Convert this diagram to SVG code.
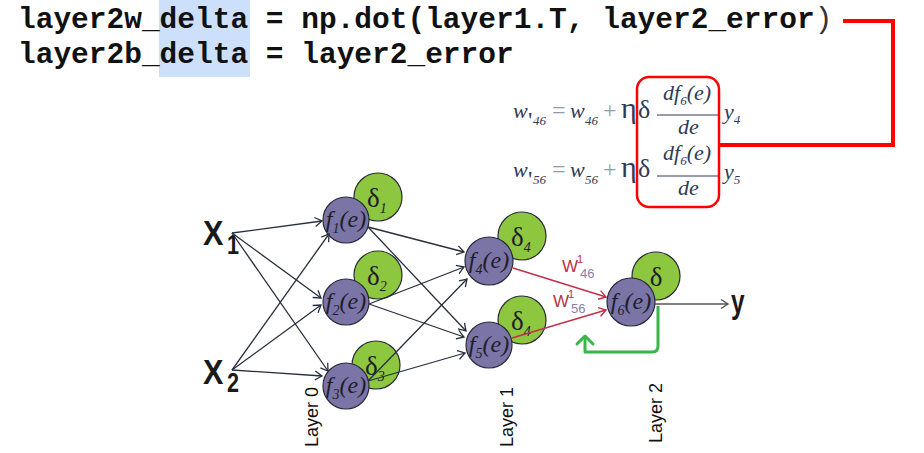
<svg xmlns="http://www.w3.org/2000/svg" width="924" height="453" viewBox="0 0 924 453">
<style>
.code{font-family:"Liberation Mono","DejaVu Sans Mono",monospace;font-weight:bold;font-size:29.5px;fill:#111}
.m{font-family:"Liberation Serif","Times New Roman",serif;font-style:italic;fill:#2f3b58}
.mu{font-family:"Liberation Serif","Times New Roman",serif;fill:#2f3b58}
.op{font-family:"Liberation Serif",serif;fill:#8f9bb3;font-size:24px}
.fn{fill:#7b74a6;stroke:#2b2b3a;stroke-width:1.2}
.dn{fill:#8dc63f;stroke:#2b2b3a;stroke-width:1.2}
.fl{font-family:"Liberation Serif",serif;font-style:italic;font-size:24px;fill:#1e1e2a}
.dl{font-family:"Liberation Serif",serif;font-size:27px;fill:#1e1e2a}
.ds{font-style:italic;font-size:14px}
.big{font-family:"Liberation Sans",Arial,sans-serif;font-weight:bold;fill:#1a1a1a}
.lay{font-family:"Liberation Sans",Arial,sans-serif;font-size:18px;fill:#111}
.blk{stroke:#27303c;stroke-width:1.3;fill:none;marker-end:url(#ab)}
.red{stroke:#c0304a;stroke-width:1.4;fill:none;marker-end:url(#ar)}
.wl{font-family:"Liberation Sans",Arial,sans-serif;fill:#b8304a}
.ws{font-family:"Liberation Sans",Arial,sans-serif;fill:#8c7fa6}
</style>
<defs>
<marker id="ab" markerUnits="userSpaceOnUse" markerWidth="12" markerHeight="12" refX="9" refY="6" orient="auto"><path d="M2,1.5 L9,6 L2,10.5" fill="none" stroke="#27303c" stroke-width="1.3"/></marker>
<marker id="ar" markerUnits="userSpaceOnUse" markerWidth="12" markerHeight="12" refX="9" refY="6" orient="auto"><path d="M2,1.5 L9,6 L2,10.5" fill="none" stroke="#c0304a" stroke-width="1.4"/></marker>
<marker id="ag" markerUnits="userSpaceOnUse" markerWidth="12" markerHeight="12" refX="9" refY="6" orient="auto"><path d="M2,1.5 L9,6 L2,10.5" fill="none" stroke="#555" stroke-width="1.4"/></marker>
</defs>
<rect width="924" height="453" fill="#fff"/>

<g id="code">
<rect x="159" y="0" width="91" height="77" fill="#cce0fc"/>
<text class="code" x="18" y="28">layer2w_delta = np.dot(layer1.T, layer2_error<tspan font-weight="normal" fill="#333">)</tspan></text>
<text class="code" x="18" y="63">layer2b_delta = layer2_error</text>
</g>

<g id="formula1">
<text class="m" x="513" y="118" font-size="22">w</text>
<text class="mu" x="528" y="128" font-size="24">'</text>
<text class="m" x="533" y="125" font-size="13">46</text>
<text class="op" x="552" y="118">=</text>
<text class="m" x="570" y="118" font-size="22">w</text>
<text class="m" x="585" y="125" font-size="13">46</text>
<text class="op" x="603" y="118">+</text>
<text class="mu" x="621" y="118" font-size="30">η</text>
<text class="mu" x="638" y="118" font-size="26">δ</text>
<text class="m" x="663" y="100" font-size="22">df<tspan font-size="13" dy="5">6</tspan><tspan dy="-5">(e)</tspan></text>
<line x1="657" y1="115" x2="720" y2="115" stroke="#2f3b58" stroke-width="1"/>
<text class="m" x="678" y="134" font-size="22">de</text>
<text class="m" x="724" y="119" font-size="22">y<tspan font-size="13" dy="5">4</tspan></text>
</g>

<g id="formula2">
<text class="m" x="513" y="177" font-size="22">w</text>
<text class="mu" x="528" y="187" font-size="24">'</text>
<text class="m" x="533" y="184" font-size="13">56</text>
<text class="op" x="552" y="177">=</text>
<text class="m" x="570" y="177" font-size="22">w</text>
<text class="m" x="585" y="184" font-size="13">56</text>
<text class="op" x="603" y="177">+</text>
<text class="mu" x="621" y="177" font-size="30">η</text>
<text class="mu" x="638" y="177" font-size="26">δ</text>
<text class="m" x="663" y="160" font-size="22">df<tspan font-size="13" dy="5">6</tspan><tspan dy="-5">(e)</tspan></text>
<line x1="657" y1="176" x2="720" y2="176" stroke="#2f3b58" stroke-width="1"/>
<text class="m" x="678" y="195" font-size="22">de</text>
<text class="m" x="724" y="179" font-size="22">y<tspan font-size="13" dy="5">5</tspan></text>
</g>

<g id="highlight-box">
<rect x="637" y="77" width="82" height="130" rx="12" fill="none" stroke="#ff0000" stroke-width="2.5"/>
</g>

<g id="inputs">
<text class="big" font-size="36" transform="translate(203,245) scale(0.85,1)">X</text>
<text class="big" font-size="27" transform="translate(227,254) scale(0.8,1)">1</text>
<text class="big" font-size="36" transform="translate(203,384) scale(0.85,1)">X</text>
<text class="big" font-size="27" transform="translate(227,392) scale(0.8,1)">2</text>
</g>

<g id="node-f1">
<circle class="dn" cx="378" cy="197" r="24"/>
<text class="dl" x="367" y="207">δ<tspan class="ds" dy="6">1</tspan></text>
<circle class="fn" cx="346" cy="220" r="23"/>
<text class="fl" x="346" y="227" text-anchor="middle">f<tspan font-size="14" dy="6">1</tspan><tspan dy="-6">(e)</tspan></text>
</g>
<g id="node-f2">
<circle class="dn" cx="378" cy="275" r="24"/>
<text class="dl" x="367" y="285">δ<tspan class="ds" dy="6">2</tspan></text>
<circle class="fn" cx="346" cy="302" r="23"/>
<text class="fl" x="346" y="309" text-anchor="middle">f<tspan font-size="14" dy="6">2</tspan><tspan dy="-6">(e)</tspan></text>
</g>
<g id="node-f3">
<circle class="dn" cx="376" cy="365" r="24"/>
<text class="dl" x="365" y="375">δ<tspan class="ds" dy="6">3</tspan></text>
<circle class="fn" cx="346" cy="386" r="23"/>
<text class="fl" x="346" y="393" text-anchor="middle">f<tspan font-size="14" dy="6">3</tspan><tspan dy="-6">(e)</tspan></text>
</g>
<g id="node-f4">
<circle class="dn" cx="522" cy="236" r="24"/>
<text class="dl" x="511" y="246">δ<tspan class="ds" dy="6">4</tspan></text>
<circle class="fn" cx="489" cy="261" r="24"/>
<text class="fl" x="489" y="268" text-anchor="middle">f<tspan font-size="14" dy="6">4</tspan><tspan dy="-6">(e)</tspan></text>
</g>
<g id="node-f5">
<circle class="dn" cx="522" cy="320" r="24"/>
<text class="dl" x="511" y="330">δ<tspan class="ds" dy="6">4</tspan></text>
<circle class="fn" cx="489" cy="345" r="23"/>
<text class="fl" x="489" y="352" text-anchor="middle">f<tspan font-size="14" dy="6">5</tspan><tspan dy="-6">(e)</tspan></text>
</g>
<g id="node-f6">
<circle class="dn" cx="656" cy="276" r="24"/>
<text class="dl" x="656" y="286" text-anchor="middle">δ</text>
<circle class="fn" cx="631" cy="302" r="24"/>
<text class="fl" x="631" y="309" text-anchor="middle">f<tspan font-size="14" dy="6">6</tspan><tspan dy="-6">(e)</tspan></text>
</g>
<g id="output">
<text class="big" font-size="34" transform="translate(731,313) scale(0.72,1)">y</text>
</g>

<g id="connectors">
<path class="blk" d="M232,233 L322,221"/>
<path class="blk" d="M232,233 L321,298"/>
<path class="blk" d="M232,233 L328,371"/>
<path class="blk" d="M232,370 L329,234"/>
<path class="blk" d="M232,370 L321,305"/>
<path class="blk" d="M232,370 L322,376"/>
<path class="blk" d="M368,227 L464,252"/>
<path class="blk" d="M368,227 L466,331"/>
<path class="blk" d="M369,304 L464,267"/>
<path class="blk" d="M369,304 L464,337"/>
<path class="blk" d="M368,381 L467,279"/>
<path class="blk" d="M368,381 L465,353"/>
<path class="red" d="M513,268 L606,297"/>
<path class="red" d="M512,338 L606,310"/>
<path d="M655,304 L728,304" stroke="#555" stroke-width="1.4" fill="none" marker-end="url(#ag)"/>
<path d="M658,306 V346 Q658,352 652,352 H585 V336" stroke="#3ab54a" stroke-width="3" fill="none" stroke-linejoin="round"/>
<path d="M577,344 L585,336 L593,344" stroke="#3ab54a" stroke-width="3" fill="none" stroke-linecap="round" stroke-linejoin="round"/>
<path d="M843,21 H893 V145 H719" stroke="#ff0000" stroke-width="4" fill="none"/>
</g>

<g id="weights">
<text class="wl" font-size="17" x="562" y="272">W</text>
<text class="wl" font-size="11" x="577" y="263">1</text>
<text class="ws" font-size="13" x="580" y="278">46</text>
<text class="wl" font-size="17" x="553" y="307">W</text>
<text class="wl" font-size="11" x="568" y="298">1</text>
<text class="ws" font-size="13" x="571" y="313">56</text>
</g>

<g id="layers">
<text class="lay" transform="translate(318,447) rotate(-90)">Layer 0</text>
<text class="lay" transform="translate(513,447) rotate(-90)">Layer 1</text>
<text class="lay" transform="translate(662,443) rotate(-90)">Layer 2</text>
</g>
</svg>
